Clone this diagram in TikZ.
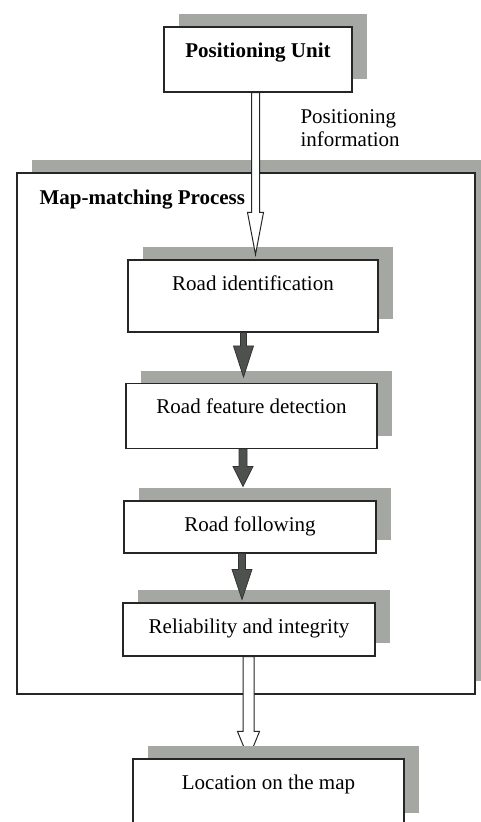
\documentclass[tikz,border=0pt]{standalone}
\usepackage{fontspec}
\setmainfont{Liberation Serif}
\usetikzlibrary{calc,shadows}
\pgfdeclarelayer{back}
\pgfdeclarelayer{middle}
\pgfsetlayers{back,middle,main}
\definecolor{shadowgrey}{RGB}{164,167,162}
\definecolor{arrowgrey}{RGB}{78,82,78}

% block arrow: style, from, to, shaft half width, head half width, head length
\newcommand{\fatarrow}[6]{%
  \draw[#1] let \p1=(#2), \p2=(#3) in
    (\x1-#4,\y1) -- (\x1-#4,\y2+#6) -- (\x1-#5,\y2+#6) -- (\x1,\y2)
    -- (\x1+#5,\y2+#6) -- (\x1+#4,\y2+#6) -- (\x1+#4,\y1) -- cycle;}

\begin{document}
\begin{tikzpicture}[x=1pt, y=-1pt,
    every node/.style={font=\fontsize{21}{23}\selectfont},
    procbox/.style={draw=black!85, line width=1.1pt, fill=white,
      inner xsep=0pt, inner ysep=0pt, text height=30pt,
      general shadow={fill=shadowgrey, shadow xshift=15pt, shadow yshift=13pt}},
    whitearrow/.style={draw=black!85, line width=1pt, fill=white},
    darkarrow/.style={draw=black!80, line width=0.8pt, fill=arrowgrey}]
  \useasboundingbox (0,0) rectangle (481,822);

  \node[procbox, minimum width=188pt, text depth=35pt] (pu) at (258,59.5) {\textbf{Positioning Unit}};
  \node[anchor=west, align=left] (posinfo) at (297,128.5) {Positioning\\information};

  \begin{pgfonlayer}{back}
    \node[procbox, minimum width=458pt, minimum height=521pt] (mm) at (246,433.5) {};
  \end{pgfonlayer}
  \node[anchor=west, font=\fontsize{21}{23}\selectfont\bfseries] (mmtitle) at (36,200) {Map-matching Process};

  \node[procbox, minimum width=250pt, text depth=42pt] (ri) at (253,296) {Road identification};
  \node[procbox, minimum width=251pt, text depth=35pt] (rfd) at (251.5,416) {Road feature detection};
  \node[procbox, minimum width=252pt, text depth=22pt] (rf) at (250,527) {Road following};
  \node[procbox, minimum width=252pt, text depth=23pt] (rai) at (249,629.5) {Reliability and integrity};
  \node[procbox, minimum width=271pt, text depth=37pt] (loc) at (268.5,792.5) {Location on the map};

  \fatarrow{whitearrow}{[xshift=-2.5pt]pu.south}{[yshift=5pt]ri.north}{4pt}{8pt}{42pt}
  \fatarrow{darkarrow}{[xshift=-9.5pt]ri.south}{[yshift=6pt]rfd.north}{3pt}{10pt}{31pt}
  \fatarrow{darkarrow}{[xshift=-8.5pt]rfd.south}{[yshift=14pt]rf.north}{4pt}{10pt}{20pt}
  \fatarrow{darkarrow}{[xshift=-8pt]rf.south}{[yshift=3pt]rai.north}{3.5pt}{10pt}{30pt}
  \begin{pgfonlayer}{middle}
    \fatarrow{whitearrow}{[xshift=-0.5pt]rai.south}{loc.north}{5.5pt}{11pt}{27pt}
  \end{pgfonlayer}
\end{tikzpicture}
\end{document}
